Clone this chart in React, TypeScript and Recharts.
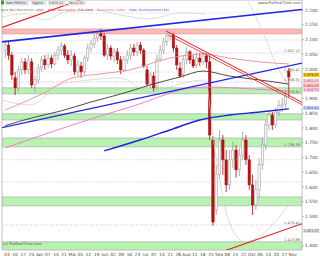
import React from "react";
import { ComposedChart, Bar, Line, XAxis, YAxis, ReferenceArea, ReferenceLine } from "recharts";

const W = 320;
const H = 256;
const Y_MIN = 1386;
const Y_MAX = 2234;
const X_MIN = -1;
const X_MAX = 90;

// daily candles
const opens = [2064, 2081, 2047, 1970, 1936, 1997, 2024, 1997, 2024, 1946, 1963, 2003, 2031, 2014, 2037, 2017, 2047, 2064, 2078, 2047, 2031, 2044, 1990, 2010, 1990, 2037, 2071, 2085, 2105, 2119, 2112, 2047, 2071, 2044, 2058, 2031, 1997, 2031, 2047, 2071, 2058, 2081, 2064, 1997, 1949, 1976, 1942, 2031, 2064, 2092, 2112, 2115, 2071, 2003, 1983, 2031, 2058, 2031, 2014, 2037, 2024, 2044, 2024, 1759, 1522, 1641, 1759, 1692, 1607, 1692, 1725, 1658, 1708, 1759, 1692, 1607, 1539, 1590, 1675, 1742, 1810, 1844, 1810, 1854, 1875, 1881, 1993];
const highs = [2098, 2092, 2058, 1990, 2010, 2037, 2037, 2047, 2037, 1976, 2017, 2044, 2047, 2051, 2047, 2058, 2078, 2092, 2085, 2064, 2064, 2054, 2031, 2024, 2047, 2085, 2098, 2119, 2132, 2136, 2122, 2085, 2081, 2071, 2071, 2044, 2044, 2064, 2085, 2085, 2092, 2092, 2071, 2010, 1990, 1990, 2047, 2081, 2105, 2122, 2129, 2122, 2081, 2024, 2044, 2075, 2064, 2047, 2058, 2054, 2058, 2058, 2047, 1773, 1675, 1793, 1776, 1725, 1725, 1753, 1742, 1732, 1787, 1776, 1708, 1641, 1624, 1698, 1766, 1827, 1861, 1854, 1868, 1895, 1902, 1922, 2003];
const lows = [2037, 2031, 1963, 1912, 1922, 1980, 1983, 1983, 1936, 1919, 1949, 1990, 1997, 2003, 2003, 2010, 2031, 2047, 2037, 2017, 2010, 1980, 1976, 1970, 1980, 2024, 2058, 2071, 2092, 2098, 2041, 2031, 2031, 2024, 2017, 1983, 1990, 2017, 2031, 2044, 2044, 2051, 2003, 1942, 1936, 1922, 1929, 2024, 2051, 2078, 2098, 2058, 1997, 1970, 1970, 2017, 2017, 2003, 2003, 2010, 2014, 2003, 1759, 1468, 1505, 1624, 1641, 1583, 1590, 1665, 1631, 1637, 1692, 1675, 1590, 1505, 1522, 1563, 1658, 1725, 1793, 1793, 1800, 1841, 1854, 1868, 1902];
const closes = [2081, 2047, 1980, 1936, 1997, 2024, 1997, 2031, 1946, 1963, 2003, 2031, 2014, 2037, 2017, 2047, 2064, 2078, 2047, 2031, 2047, 1990, 2014, 1990, 2037, 2071, 2085, 2105, 2119, 2112, 2047, 2071, 2044, 2058, 2031, 1997, 2031, 2047, 2071, 2058, 2081, 2064, 2010, 1949, 1980, 1936, 2031, 2064, 2092, 2112, 2119, 2071, 2014, 1976, 2031, 2058, 2031, 2010, 2037, 2024, 2044, 2024, 1776, 1481, 1641, 1759, 1692, 1607, 1692, 1725, 1658, 1708, 1759, 1692, 1607, 1539, 1590, 1675, 1742, 1810, 1844, 1810, 1854, 1875, 1881, 1909, 1973];

// moving averages (sampled points)
const blackIdx = [0, 8, 17, 26, 35, 44, 53, 60, 68, 77, 86];
const blackVals = [1808, 1834, 1858, 1888, 1915, 1946, 1973, 1993, 1976, 1963, 1949];
const salmonIdx = [0, 10.5, 20.5, 28.7, 37.8, 49.9, 59.9, 68.1, 77.2, 86];
const salmonVals = [1861, 1912, 1970, 1983, 1997, 2037, 2051, 2037, 2024, 2017];
const magentaIdx = [0, 15.7, 37.8, 59.9, 80.2, 86];
const magentaVals = [1732, 1793, 1871, 1939, 1929, 1925];
const blueMaIdx = [30, 40.8, 49.9, 59, 68.1, 77.2, 86];
const blueMaVals = [1722, 1759, 1793, 1827, 1844, 1854, 1865];

// faint bands
const upperAIdx = [-1, 6, 12, 18.1, 27.2, 34.8, 43.9, 53, 60.6];
const upperAVals = [2176, 2187, 2166, 2193, 2200, 2183, 2170, 2190, 2187];
const upperBIdx = [72.7, 77.9, 83.3, 86];
const upperBVals = [2251, 2132, 1990, 1949];
const lowerIdx = [-1, 7.5, 16.6, 25.7, 34.8, 43.9, 53, 60.6, 63.6, 68.2, 72.7, 77.3, 81.8, 86];
const lowerVals = [1895, 1878, 1946, 1963, 1970, 1922, 1949, 1963, 1725, 1471, 1414, 1434, 1481, 1539];

// zones
const greenZones = [[1916, 1936], [1827, 1848], [1736, 1766], [1536, 1566], [1370, 1414]];
const pinkZone = [2119, 2136];
const greyDots = [2190, 2098, 1990, 1692, 1617];
const purpleDots = [2054, 1956, 1471];

const yTicks = [1400, 1500, 1550, 1600, 1650, 1700, 1750, 1800, 1850, 1900, 2000, 2050, 2100, 2150, 2200];
const xLabels = ["03", "10", "17", "24", "Apr", "07", "14", "21", "Mai", "05", "12", "19", "Jun", "02", "09", "16", "23", "Jul", "07", "14", "21", "28", "Aug", "11", "18", "25", "Sep", "08", "15", "22", "Okt", "06", "13", "20", "27", "Nov"];
const xTickPos = xLabels.map((_, j) => 0.5 + j * 2.476);

const headItems = [
  { t: "DAX PERF(X)", x: 5, w: 24 },
  { t: "Täglich", x: 31, w: 15 },
  { t: "1.975,11", x: 48, w: 18 },
  { t: "20.11.15", x: 68, w: 18 },
];
const legendItems = [
  { t: "Kurs DAX Durchschn. (200)", x: 1, w: 43, color: "#555" },
  { t: "Gew. Durchschn. (50) Gelb", x: 48, w: 45, color: "#e02020" },
  { t: "Durchschn. (100)", x: 97, w: 28, color: "#e040b0" },
  { t: "Gew. Durchschnitt (20)", x: 129, w: 40, color: "#3040e0" },
];

const plotLabels = [
  { v: 2054, t: "2.052,12" },
  { v: 1990, t: "1.980,42" },
  { v: 1956, t: "1.956,31" },
  { v: 1916, t: "1.918,61" },
  { v: 1736, t: "1.736,38" },
  { v: 1471, t: "1.470,41" },
  { v: 1414, t: "1.413,88" },
];
const sideBoxes = [
  { v: 1980, t: "1.978,25", fill: "#ffd400", color: "#000" },
  { v: 1959, t: "1.956,31", fill: "#f9d0de", color: "#c03070" },
  { v: 1944, t: "1.941,05", fill: "#f7c0c0", color: "#c03030" },
  { v: 1929, t: "1.928,73", fill: "#f9d0de", color: "#c03070" },
  { v: 1868, t: "1.866,46", fill: "#cfd8fb", color: "#2030d0" },
  { v: 1451, t: "1.451,27", fill: "#dcdcdc", color: "#555" },
];

const candles = opens.map((o, i) => ({ i, o, h: highs[i], l: lows[i], c: closes[i] }));
const pts = (idx: number[], vals: number[]) => idx.map((i, k) => ({ i, v: vals[k] }));

const fmt = (v: number) => (v / 1000).toFixed(3);

function Candle(props: any) {
  const { x, y, width, height, payload } = props;
  if (!payload || height == null) return null;
  const { o, h, l, c } = payload;
  const k = h === l ? 0 : height / (h - l);
  const cx = x + width / 2;
  const yTop = y + (h - Math.max(o, c)) * k;
  const yBot = y + (h - Math.min(o, c)) * k;
  const up = c >= o;
  const col = up ? "#9c9c9c" : "#a80c0c";
  return (
    <g>
      <line x1={cx} x2={cx} y1={y} y2={y + height} stroke={col} strokeWidth={0.8} />
      <rect x={cx - 1.2} y={yTop} width={2.4} height={Math.max(yBot - yTop, 0.8)} fill={up ? "#f6f6f6" : "#b80f0f"} stroke={col} strokeWidth={0.5} />
    </g>
  );
}

function XTick(props: any) {
  const { x, index } = props;
  return (
    <text x={x} y={255.5} fontSize={4.3} textAnchor="middle" fill="#444">
      {xLabels[index]}
    </text>
  );
}

function YTick(props: any) {
  const { y, payload } = props;
  return (
    <g>
      <line x1={302} x2={304} y1={y} y2={y} stroke="#888" strokeWidth={0.5} />
      <text x={305} y={y + 1.6} fontSize={4.4} fill="#444">
        {fmt(payload.value)}
      </text>
    </g>
  );
}

function PlotLabel({ viewBox, text }: any) {
  if (!viewBox) return null;
  return (
    <text x={viewBox.x + viewBox.width - 2} y={viewBox.y - 0.8} fontSize={3.6} textAnchor="end" fill="#666">
      {text}
    </text>
  );
}

function SideBox({ viewBox, text, fill, color }: any) {
  if (!viewBox) return null;
  const bx = viewBox.x + viewBox.width + 1;
  return (
    <g>
      <rect x={bx} y={viewBox.y - 2.1} width={16.5} height={4.2} fill={fill} />
      <text x={bx + 8.2} y={viewBox.y + 1.2} fontSize={3.3} textAnchor="middle" fill={color}>
        {text}
      </text>
    </g>
  );
}

function Header() {
  return (
    <svg width={W} height={H} style={{ position: "absolute", left: 0, top: 0, pointerEvents: "none" }}>
      <rect x={1} y={0.5} width={3} height={4} fill="#3a9a3a" />
      {headItems.map((it) => (
        <g key={it.t}>
          <rect x={it.x} y={0.5} width={it.w} height={5} fill="#e6e6e6" />
          <text x={it.x + 1} y={4.1} fontSize={3.2} fill="#333">{it.t}</text>
        </g>
      ))}
      {legendItems.map((it) => (
        <text key={it.t} x={it.x} y={11} fontSize={3} fill={it.color} textLength={it.w} lengthAdjust="spacingAndGlyphs">
          {it.t}
        </text>
      ))}
      <text x={301} y={4} fontSize={3.8} textAnchor="end" fill="#555">www.ProRealTime.com</text>
      <text x={3} y={245} fontSize={3.8} fill="#555">(c) ProRealTime.com</text>
    </svg>
  );
}

export default function App() {
  return (
    <div style={{ position: "relative", width: W, height: H, background: "#fff", fontFamily: '"DejaVu Sans", sans-serif' }}>
      <style>{`body{margin:0}`}</style>
      <ComposedChart width={W} height={H} data={candles} margin={{ top: 0, right: 0, bottom: 0, left: 2 }}>
        <XAxis dataKey="i" type="number" domain={[X_MIN, X_MAX]} ticks={xTickPos} tick={<XTick />} interval={0} axisLine={false} tickLine={false} height={6} allowDataOverflow />
        <YAxis orientation="right" type="number" domain={[Y_MIN, Y_MAX]} ticks={yTicks} tick={<YTick />} interval={0} axisLine={false} tickLine={false} width={18} allowDataOverflow />

        <ReferenceArea y1={pinkZone[0]} y2={pinkZone[1]} fill="#f9b9b9" fillOpacity={1} stroke="#e89090" strokeWidth={0.6} ifOverflow="hidden" />
        {greenZones.map(([a, b], k) => (
          <ReferenceArea key={`g${k}`} y1={a} y2={b} fill="#b9f1b1" fillOpacity={1} stroke="#a2b4a2" strokeWidth={0.7} ifOverflow="hidden" />
        ))}
        {greyDots.map((v) => (
          <ReferenceLine key={`d${v}`} y={v} stroke="#b4b4b4" strokeDasharray="1 1.5" strokeWidth={0.6} />
        ))}
        {purpleDots.map((v) => (
          <ReferenceLine key={`p${v}`} y={v} stroke="#b894e6" strokeDasharray="1 1.5" strokeWidth={0.7} />
        ))}

        <Line data={pts(upperAIdx, upperAVals)} dataKey="v" type="monotone" stroke="#cfcfcf" strokeWidth={0.7} dot={false} isAnimationActive={false} />
        <Line data={pts(upperBIdx, upperBVals)} dataKey="v" type="monotone" stroke="#cfcfcf" strokeWidth={0.7} dot={false} isAnimationActive={false} />
        <Line data={pts(lowerIdx, lowerVals)} dataKey="v" type="monotone" stroke="#cfcfcf" strokeWidth={0.7} dot={false} isAnimationActive={false} />

        <Bar dataKey={(d: any) => [d.l, d.h]} barSize={3} shape={<Candle />} isAnimationActive={false} />

        <Line data={pts(salmonIdx, salmonVals)} dataKey="v" type="monotone" stroke="#f08a8a" strokeWidth={0.9} dot={false} isAnimationActive={false} />
        <Line data={pts(magentaIdx, magentaVals)} dataKey="v" type="monotone" stroke="#ff6ad0" strokeWidth={0.9} dot={false} isAnimationActive={false} />
        <Line data={pts(blackIdx, blackVals)} dataKey="v" type="monotone" stroke="#3a3a3a" strokeWidth={0.9} dot={false} isAnimationActive={false} />
        <Line data={pts(blueMaIdx, blueMaVals)} dataKey="v" type="monotone" stroke="#1e22e0" strokeWidth={1.4} dot={false} isAnimationActive={false} />

        <ReferenceLine segment={[{ x: -1, y: 2092 }, { x: 90, y: 2202 }]} stroke="#2226e4" strokeWidth={1.6} ifOverflow="hidden" />
        <ReferenceLine segment={[{ x: -1, y: 1801 }, { x: 90, y: 2020 }]} stroke="#2226e4" strokeWidth={1.4} ifOverflow="hidden" />
        <ReferenceLine segment={[{ x: 48.7, y: 2129 }, { x: 90, y: 1887 }]} stroke="#e52020" strokeWidth={1} ifOverflow="hidden" />
        <ReferenceLine segment={[{ x: 49.5, y: 2115 }, { x: 90, y: 1879 }]} stroke="#e52020" strokeWidth={0.8} ifOverflow="hidden" />
        <ReferenceLine segment={[{ x: -1, y: 2141 }, { x: 25, y: 2243 }]} stroke="#e52020" strokeWidth={1.1} ifOverflow="hidden" />
        <ReferenceLine segment={[{ x: 63.9, y: 1373 }, { x: 90, y: 1475 }]} stroke="#e52020" strokeWidth={1.1} ifOverflow="hidden" />

        {plotLabels.map((p) => (
          <ReferenceLine key={`l${p.v}`} y={p.v} stroke="none" label={<PlotLabel text={p.t} />} />
        ))}
        {sideBoxes.map((b) => (
          <ReferenceLine key={`s${b.v}`} y={b.v} stroke="none" label={<SideBox text={b.t} fill={b.fill} color={b.color} />} />
        ))}
        <ReferenceArea x1={X_MIN} x2={X_MAX} y1={Y_MIN} y2={Y_MAX} fill="none" stroke="#b0b0b0" strokeWidth={0.8} />
      </ComposedChart>
      <Header />
    </div>
  );
}
